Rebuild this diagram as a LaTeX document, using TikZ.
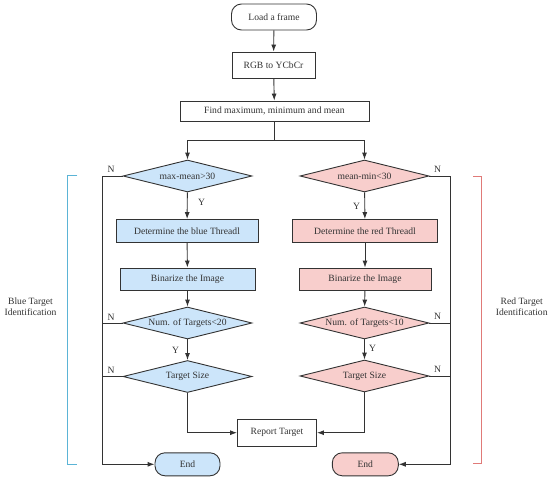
\documentclass[tikz,border=0pt]{standalone}
\usepackage{fontspec}
\setmainfont{Liberation Serif}
\usetikzlibrary{shapes.geometric,arrows.meta}
\definecolor{bfill}{HTML}{CCE5FA}
\definecolor{rfill}{HTML}{F8CECC}
\definecolor{ink}{HTML}{333333}
\definecolor{bbr}{HTML}{5BB4D6}
\definecolor{rbr}{HTML}{E07A78}
\begin{document}
\begin{tikzpicture}[x=1pt,y=-1pt,
  every node/.style={font=\fontsize{9.6}{11}\selectfont, text=ink},
  box/.style={draw=ink, line width=0.9pt, rectangle, inner sep=0pt, minimum height=22pt},
  pill/.style={draw=ink, line width=0.9pt, rectangle, rounded corners=10pt, inner sep=0pt},
  dia/.style={draw=ink, line width=0.9pt, diamond, aspect=4, inner sep=0pt, minimum width=129pt, minimum height=32pt},
  ln/.style={draw=ink, line width=0.9pt},
  arr/.style={ln, -{Latex[length=7pt,width=5pt]}},
  lab/.style={inner sep=0pt, font=\fontsize{9.6}{11}\selectfont},
  bl/.style={fill=bfill}, rd/.style={fill=rfill}]
\useasboundingbox (0,0) rectangle (550,480);

\node[pill, minimum width=85pt, minimum height=26pt] (load) at (274,17) {Load a frame};
\node[box, minimum width=83pt, minimum height=26pt] (rgb) at (273.5,65) {RGB to YCbCr};
\node[box, minimum width=189pt, minimum height=20pt] (find) at (274.5,111) {Find maximum, minimum and mean};

% blue branch
\node[dia, bl] (bd1) at (187.5,176) {max-mean>30};
\node[box, bl, minimum width=142pt, minimum height=23pt] (bdet) at (187,231) {Determine the blue Threadl};
\node[box, bl, minimum width=135pt] (bbin) at (187.5,279) {Binarize the Image};
\node[dia, bl] (bd2) at (187.5,323) {Num. of Targets<20};
\node[dia, bl] (bsize) at (187.5,376.5) {Target Size};
\node[pill, bl, minimum width=65pt, minimum height=23pt] (bend) at (187.5,464.3) {End};

% red branch
\node[dia, rd] (rd1) at (364.5,176) {mean-min<30};
\node[box, rd, minimum width=145pt, minimum height=23pt] (rdet) at (365,231) {Determine the red Threadl};
\node[box, rd, minimum width=132pt] (rbin) at (365,279) {Binarize the Image};
\node[dia, rd] (rd2) at (364.5,323) {Num. of Targets<10};
\node[dia, rd] (rsize) at (364.5,376) {Target Size};
\node[pill, rd, minimum width=66pt, minimum height=23pt] (rend) at (365.3,464.3) {End};

\node[box, minimum width=79pt, minimum height=27pt] (rep) at (277,432.7) {Report Target};

% main arrows
\draw[arr] (load) -- (rgb);
\draw[arr] (rgb) -- (find);
\coordinate (sp) at (274.5,140);
\draw[ln] (find.south) -- (sp);
\draw[arr] (sp) -| (bd1.north);
\draw[arr] (sp) -| (rd1.north);

\draw[arr] (bd1) -- (bdet);
\draw[arr] (bdet) -- (bbin);
\draw[arr] (bbin) -- (bd2);
\draw[arr] (bd2) -- (bsize);
\draw[arr] (bsize.south) |- (rep.west);

\draw[arr] (rd1) -- (rdet);
\draw[arr] (rdet) -- (rbin);
\draw[arr] (rbin) -- (rd2);
\draw[arr] (rd2) -- (rsize);
\draw[arr] (rsize.south) |- (rep.east);

% N lines
\coordinate (bc) at (102.3,464.3);
\coordinate (rc) at (450,464.3);
\draw[arr] (bd1.west) -| (bc) -- (bend.west);
\draw[ln] (bd2.west) -- (bd2.west -| bc);
\draw[ln] (bsize.west) -- (bsize.west -| bc);
\draw[arr] (rd1.east) -| (rc) -- (rend.east);
\draw[ln] (rd2.east) -- (rd2.east -| rc);
\draw[ln] (rsize.east) -- (rsize.east -| rc);

% labels
\node[lab] (n1) at (111,169.5) {N};
\node[lab] (n2) at (111,317.5) {N};
\node[lab] (n3) at (111,370) {N};
\node[lab] (n4) at (437.7,169.5) {N};
\node[lab] (n5) at (437.7,316) {N};
\node[lab] (n6) at (437.7,369) {N};
\node[lab] (y1) at (201.7,202.7) {Y};
\node[lab] (y2) at (175.7,350.7) {Y};
\node[lab] (y3) at (356.7,206) {Y};
\node[lab] (y4) at (372.7,348) {Y};

% brackets
\draw[bbr, line width=0.9pt] (77.3,175) -- (67.7,175) -- (67.7,464) -- (77.3,464);
\draw[rbr, line width=0.9pt] (473.3,176) -- (481,176) -- (481,463.3) -- (473.3,463.3);
\node[align=center, inner sep=0pt] (blab) at (30.5,307) {Blue Target\\Identification};
\node[align=center, inner sep=0pt] (rlab) at (521.7,306.5) {Red Target\\Identification};
\end{tikzpicture}
\end{document}
